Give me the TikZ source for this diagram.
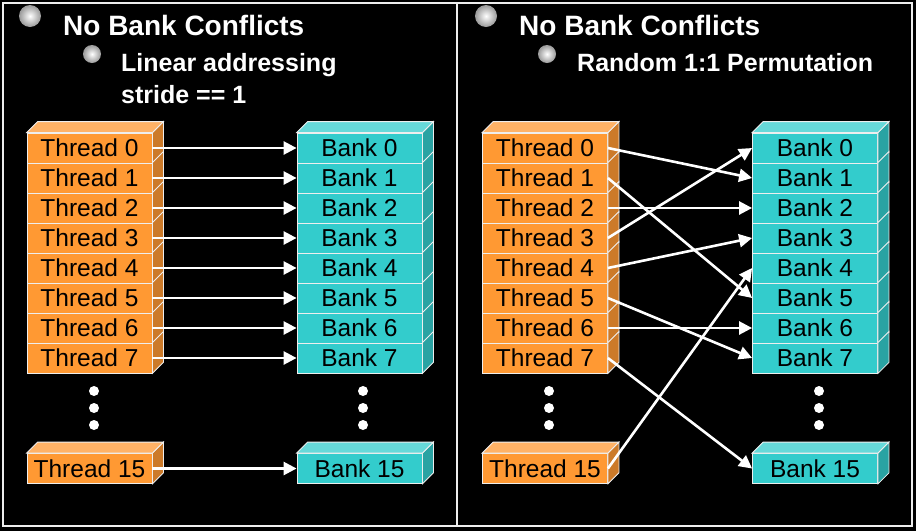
\documentclass[tikz,border=0pt]{standalone}
\usepackage{fontspec}
\setmainfont{Liberation Sans}
\usetikzlibrary{arrows.meta,positioning}
\definecolor{thrfront}{RGB}{255,153,51}
\definecolor{thrtop}{RGB}{255,178,102}
\definecolor{thrside}{RGB}{204,122,41}
\definecolor{bnkfront}{RGB}{51,204,204}
\definecolor{bnktop}{RGB}{102,217,217}
\definecolor{bnkside}{RGB}{41,163,163}
\definecolor{edgegray}{RGB}{238,238,238}

% side and top faces of a block
\newcommand{\sideface}[2]{\filldraw[fill=#2, draw=edgegray, line width=0.8pt]
  (#1.north east) -- ([shift={(11,-11)}]#1.north east) -- ([shift={(11,-11)}]#1.south east) -- (#1.south east) -- cycle;}
\newcommand{\topface}[2]{\filldraw[fill=#2, draw=edgegray, line width=0.8pt]
  (#1.north west) -- ([shift={(11,-11)}]#1.north west) -- ([shift={(11,-11)}]#1.north east) -- (#1.north east) -- cycle;}

\begin{document}
\begin{tikzpicture}[x=1pt, y=-1pt,
  thread/.style={draw=edgegray, fill=thrfront, line width=0.8pt, minimum width=125pt, minimum height=30pt,
    inner sep=0pt, font=\fontsize{24.5}{26}\selectfont},
  bank/.style={thread, fill=bnkfront},
  headline/.style={anchor=base west, inner sep=0pt, text=white, font=\fontsize{28}{32}\selectfont\bfseries},
  subline/.style={anchor=base west, inner sep=0pt, text=white, font=\fontsize{25}{30}\selectfont\bfseries},
  arr/.style={-{Triangle[length=13pt,width=13pt]}, draw=white, line width=2.6pt},
  bullet/.style={inner color=white, outer color=gray!80}]
\useasboundingbox[fill=black] (0,0) rectangle (916,531);
\draw[edgegray, line width=2pt] (3,3) rectangle (912,526);
\draw[edgegray, line width=2pt] (457,3) -- (457,526);

% headings
\shade[bullet] (30,16) circle (11pt);
\shade[bullet] (92,54) circle (9pt);
\node[headline] (lhead) at (63,35) {No Bank Conflicts};
\node[subline] (lsub) at (121,71) {Linear addressing};
\node[subline] (lsubb) at (121,103) {stride == 1};
\shade[bullet] (486,16) circle (11pt);
\shade[bullet] (547,54) circle (9pt);
\node[headline] (rhead) at (519,35) {No Bank Conflicts};
\node[subline] (rsub) at (577,71) {Random 1:1 Permutation};

% blocks
\foreach \i in {0,...,7} {
  \node[thread] (lt\i) at (89.5,148+30*\i) {Thread \i};
  \node[bank] (lb\i) at (359.5,148+30*\i) {Bank \i};
  \node[thread] (rt\i) at (545,148+30*\i) {Thread \i};
  \node[bank] (rb\i) at (815,148+30*\i) {Bank \i};
}
\node[thread] (lt15) at (89.5,468.5) {Thread 15};
\node[bank] (lb15) at (359.5,468.5) {Bank 15};
\node[thread] (rt15) at (545,468.5) {Thread 15};
\node[bank] (rb15) at (815,468.5) {Bank 15};
\foreach \i in {0,...,7,15} {
  \sideface{lt\i}{thrside} \sideface{rt\i}{thrside}
  \sideface{lb\i}{bnkside} \sideface{rb\i}{bnkside}
}
\foreach \i in {0,15} {
  \topface{lt\i}{thrtop} \topface{rt\i}{thrtop}
  \topface{lb\i}{bnktop} \topface{rb\i}{bnktop}
}

% dots
\foreach \x in {94,363,549,819}
  \foreach \y in {391,408,425}
    \fill[white] (\x,\y) circle (5pt);

% connections
\foreach \i in {0,...,7,15}
  \draw[arr] (lt\i.east) -- (lb\i.west);
\foreach \i/\j in {0/1,1/5,2/2,3/0,4/3,5/7,6/6,7/15,15/4}
  \draw[arr] (rt\i.east) -- (rb\j.west);
\end{tikzpicture}
\end{document}
